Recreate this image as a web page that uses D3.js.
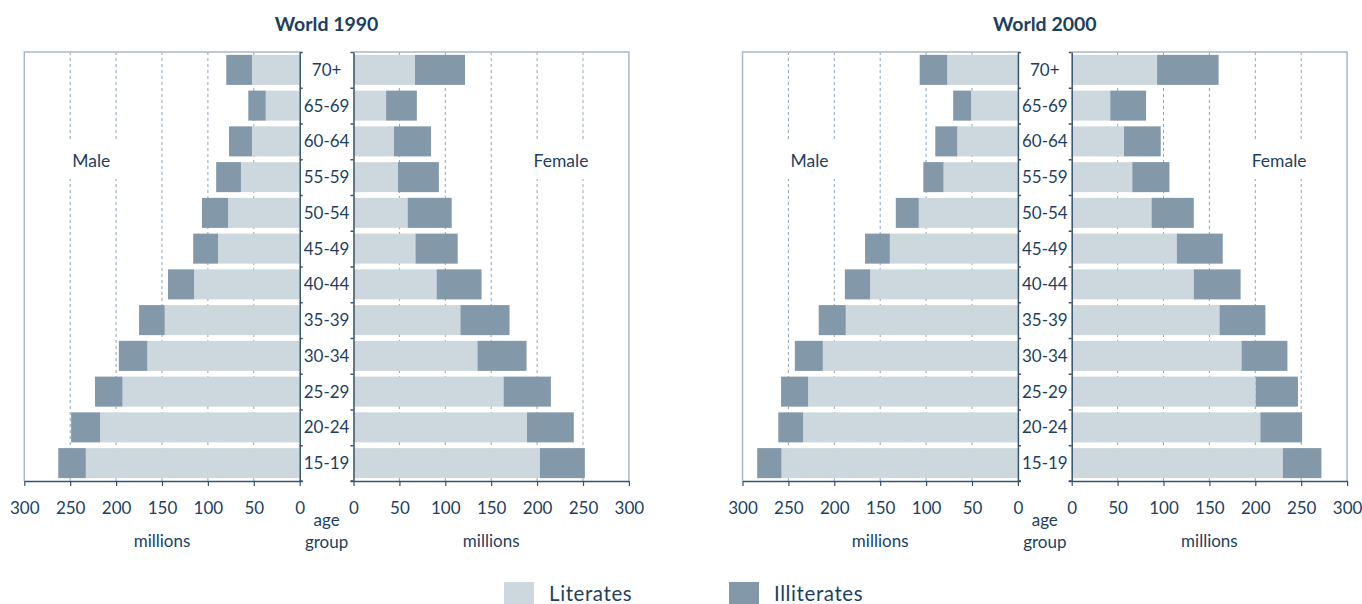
<!DOCTYPE html>
<html>
<head>
<meta charset="utf-8">
<script src="https://cdn.jsdelivr.net/npm/d3@7"></script>
<style>
  html, body { margin: 0; padding: 0; background: #ffffff; }
  svg { display: block; font-family: "Lato", "Open Sans", sans-serif; }
</style>
</head>
<body>
<script>
// ---------- data (millions) ----------
const ages = ["70+","65-69","60-64","55-59","50-54","45-49","40-44","35-39","30-34","25-29","20-24","15-19"];
const xTicks = [0, 50, 100, 150, 200, 250, 300];

const male1990Lit   = [52, 37, 52, 64, 78, 89, 115, 147, 166, 193, 217.5, 233];
const male1990Ill   = [28, 19, 25, 27, 28.5, 27, 28.5, 28, 31, 30, 31.5, 30];
const female1990Lit = [67, 35.5, 44, 48.5, 59, 67.5, 90.5, 116.5, 135, 163.5, 189, 203];
const female1990Ill = [54.5, 33.5, 40.5, 44.5, 48, 46, 49, 53.5, 53.5, 51.5, 51, 49];

const male2000Lit   = [77, 51, 66, 81, 108, 139.5, 161, 187.5, 212.5, 228.5, 234, 257.5];
const male2000Ill   = [30, 19.5, 24, 22, 25, 27, 27.5, 29.5, 30.5, 29.5, 27, 26.5];
const female2000Lit = [93, 42, 57, 66, 87, 114.5, 133, 161, 185, 200.5, 205.5, 230];
const female2000Ill = [67, 39, 40, 40.5, 46, 50, 51, 50, 50, 46, 45.5, 42];

const legendLabels = ["Literates", "Illiterates"];

// ---------- style ----------
const C = {
  lit: "#cdd8de",
  ill: "#8399aa",
  text: "#1d3f5f",
  axis: "#34536f",
  frame: "#a9b8c6",
  grid: "#8fa3b5"
};

const W = 1362, H = 604;
const yTop = 52, yBot = 481;
const pw = 275.4, gap = 53.8;

const svg = d3.select("body").append("svg").attr("width", W).attr("height", H);

const y = d3.scaleBand().domain(ages).range([yTop, yBot]).paddingInner(0.16).paddingOuter(0.08);
const yEdge = d3.scaleLinear().domain([0, ages.length]).range([yTop, yBot]);

function pyramid(ox, title, mLit, mIll, fLit, fIll) {
  const g = svg.append("g");
  const xm = d3.scaleLinear().domain([0, 300]).range([ox + pw, ox]);
  const xf = d3.scaleLinear().domain([0, 300]).range([ox + pw + gap, ox + 2 * pw + gap]);
  const midX = ox + pw + gap / 2;

  // gridlines
  [xm, xf].forEach(sc => {
    g.append("g").selectAll("line").data(xTicks.filter(v => v > 0 && v < 300)).join("line")
      .attr("x1", d => sc(d)).attr("x2", d => sc(d))
      .attr("y1", yTop).attr("y2", yBot)
      .attr("stroke", C.grid).attr("stroke-width", 1).attr("stroke-dasharray", "3,3");
  });

  // frames
  g.append("path").attr("d", `M${xm(300)},${yBot}V${yTop}H${xm(0)}`)
    .attr("fill", "none").attr("stroke", C.frame).attr("stroke-width", 1.5);
  g.append("path").attr("d", `M${xf(0)},${yTop}H${xf(300)}V${yBot}`)
    .attr("fill", "none").attr("stroke", C.frame).attr("stroke-width", 1.5);

  // side labels with white backing to interrupt gridlines
  const sideLabels = [
    {t: "Male", x: xm(227)},
    {t: "Female", x: xf(226)}
  ];
  sideLabels.forEach(s => {
    g.append("rect").attr("x", s.x - 36).attr("y", 141).attr("width", 72).attr("height", 38).attr("fill", "#fff");
    g.append("text").attr("x", s.x).attr("y", 167).attr("text-anchor", "middle")
      .attr("font-size", 17.5).attr("fill", C.text).text(s.t);
  });

  // bars
  const idx = d3.range(ages.length);
  g.append("g").selectAll("rect").data(idx).join("rect")
    .attr("x", i => xm(mLit[i])).attr("width", i => xm(0) - xm(mLit[i]))
    .attr("y", i => y(ages[i])).attr("height", y.bandwidth()).attr("fill", C.lit);
  g.append("g").selectAll("rect").data(idx).join("rect")
    .attr("x", i => xm(mLit[i] + mIll[i])).attr("width", i => xm(mLit[i]) - xm(mLit[i] + mIll[i]))
    .attr("y", i => y(ages[i])).attr("height", y.bandwidth()).attr("fill", C.ill);
  g.append("g").selectAll("rect").data(idx).join("rect")
    .attr("x", xf(0)).attr("width", i => xf(fLit[i]) - xf(0))
    .attr("y", i => y(ages[i])).attr("height", y.bandwidth()).attr("fill", C.lit);
  g.append("g").selectAll("rect").data(idx).join("rect")
    .attr("x", i => xf(fLit[i])).attr("width", i => xf(fLit[i] + fIll[i]) - xf(fLit[i]))
    .attr("y", i => y(ages[i])).attr("height", y.bandwidth()).attr("fill", C.ill);

  // middle axes
  const edgeTicks = d3.range(ages.length + 1);
  const mAx = g.append("g").attr("transform", `translate(${xm(0)},0)`)
    .call(d3.axisRight(yEdge).tickValues(edgeTicks).tickSize(3).tickSizeOuter(0).tickFormat(""));
  const fAx = g.append("g").attr("transform", `translate(${xf(0)},0)`)
    .call(d3.axisLeft(yEdge).tickValues(edgeTicks).tickSize(3).tickSizeOuter(0).tickFormat(""));
  [mAx, fAx].forEach(a => {
    a.select(".domain").attr("stroke", C.axis).attr("stroke-width", 1.5);
    a.selectAll(".tick line").attr("stroke", C.axis).attr("stroke-width", 1.5);
  });

  // bottom axes
  [[xm, 1], [xf, -1]].forEach(([sc, dir]) => {
    const a = g.append("g").attr("transform", `translate(0,${yBot})`)
      .call(d3.axisBottom(sc).tickValues(xTicks).tickSize(5).tickSizeOuter(0).tickFormat(d3.format("d")));
    a.select(".domain").attr("stroke", C.axis).attr("stroke-width", 1.5);
    a.selectAll(".tick line").attr("stroke", C.axis).attr("stroke-width", 1.2);
    a.selectAll(".tick text").attr("y", 33).attr("dy", null)
      .attr("font-size", 17).attr("font-family", "Lato, sans-serif").attr("fill", C.text);
    g.append("line").attr("x1", sc(0)).attr("x2", sc(0) + dir * 3)
      .attr("y1", yBot).attr("y2", yBot).attr("stroke", C.axis).attr("stroke-width", 1.5);
    g.append("text").attr("x", (sc(0) + sc(300)) / 2).attr("y", 547).attr("text-anchor", "middle")
      .attr("font-size", 17).attr("fill", C.text).text("millions");
  });

  // age labels
  g.append("g").selectAll("text").data(ages).join("text")
    .attr("x", midX).attr("y", d => y(d) + y.bandwidth() / 2).attr("dy", "0.36em")
    .attr("text-anchor", "middle").attr("font-size", 17).attr("fill", C.text).text(d => d);
  g.append("text").attr("x", midX).attr("y", 526).attr("text-anchor", "middle")
    .attr("font-size", 17).attr("fill", C.text).text("age");
  g.append("text").attr("x", midX).attr("y", 548).attr("text-anchor", "middle")
    .attr("font-size", 17).attr("fill", C.text).text("group");

  // title
  g.append("text").attr("x", midX).attr("y", 30.5).attr("text-anchor", "middle")
    .attr("font-size", 19.5).attr("font-weight", 700).attr("fill", C.text).text(title);
}

pyramid(24.3, "World 1990", male1990Lit, male1990Ill, female1990Lit, female1990Ill);
pyramid(742.5, "World 2000", male2000Lit, male2000Ill, female2000Lit, female2000Ill);

// legend
const legendColors = [C.lit, C.ill];
const legendX = [504, 729];
const lg = svg.append("g");
legendLabels.forEach((lab, i) => {
  lg.append("rect").attr("x", legendX[i]).attr("y", 582).attr("width", 30).attr("height", 22).attr("fill", legendColors[i]);
  lg.append("text").attr("x", legendX[i] + 45).attr("y", 601).attr("font-size", 20.5)
    .attr("letter-spacing", 0.6).attr("fill", C.text).text(lab);
});
</script>
</body>
</html>
